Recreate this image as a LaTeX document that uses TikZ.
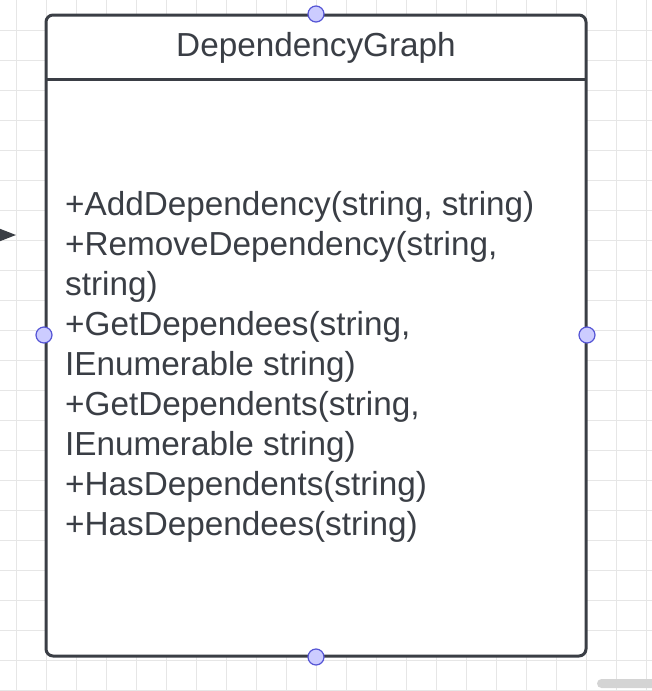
\documentclass[tikz,border=0pt]{standalone}
\usepackage{fontspec}
\setmainfont{Liberation Sans}
\usetikzlibrary{arrows.meta}
\definecolor{ink}{HTML}{3A3E45}
\definecolor{gridgray}{HTML}{E6E6E6}
\definecolor{handlefill}{HTML}{CCCCFF}
\definecolor{handleline}{HTML}{5555D5}
\definecolor{barfill}{HTML}{D4D4D4}

\begin{document}
\begin{tikzpicture}[x=1pt,y=-1pt,
        member/.style={anchor=base west,inner sep=0pt,text=ink,font=\fontsize{33.3}{40}\selectfont},
        handle/.style={circle,draw=handleline,fill=handlefill,line width=1.2pt,minimum size=16pt,inner sep=0pt}]
        \useasboundingbox (0,0) rectangle (652,691);
        % background grid
        \foreach \x in {0,...,21} {
            \draw[gridgray,line width=0.8pt] (16.7+30*\x,0) -- (16.7+30*\x,691);
        }
        \foreach \y in {1,...,23} {
            \draw[gridgray,line width=0.8pt] (0,30*\y) -- (652,30*\y);
        }
        % class box
        \draw[ink,fill=white,line width=3pt,rounded corners=7pt] (46,15) rectangle (586,656);
        \draw[ink,line width=3pt] (46,79) -- (586,79);
        \node[anchor=base,inner sep=0pt,text=ink,font=\fontsize{33.3}{40}\selectfont] (title) at (316,56) {DependencyGraph};
        \foreach \t [count=\i] in {{+AddDependency(string, string)},{+RemoveDependency(string,},{string)},
                {+GetDependees(string,},{IEnumerable string)},{+GetDependents(string,},
                {IEnumerable string)},{+HasDependents(string)},{+HasDependees(string)}} {
            \node[member] (m\i) at (65,175+40*\i) {\t};
        }
        % incoming arrow
        \coordinate (arrowfrom) at (-20,235);
        \coordinate (arrowto) at (16,235);
        \draw[ink,line width=1.5pt,-{Triangle[length=16pt,width=12pt]}] (arrowfrom) -- (arrowto);
        % connection points
        \node[handle] (top) at (316,14) {};
        \node[handle] (bottom) at (316,657) {};
        \node[handle] (left) at (44,335) {};
        \node[handle] (right) at (587,335) {};
        % scroll bar
        \fill[barfill,rounded corners=4.5pt] (597,679) rectangle (660,688);
\end{tikzpicture}
\end{document}
